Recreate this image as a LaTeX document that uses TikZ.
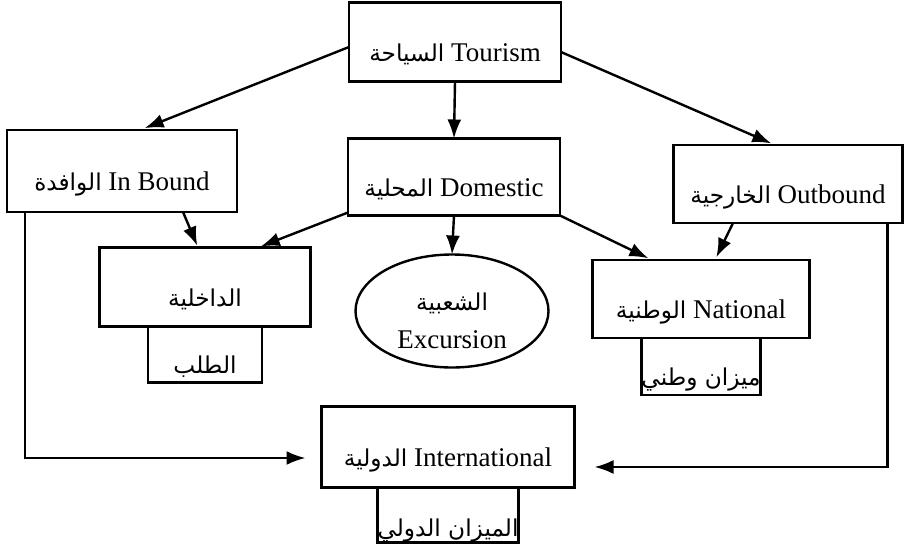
\documentclass[tikz,border=0pt]{standalone}
\usepackage{fontspec}
\setmainfont{Liberation Serif}
\newfontfamily\arabicfont[Script=Arabic,Scale=0.86]{DejaVu Sans}
\TeXXeTstate=1
\usetikzlibrary{arrows.meta,positioning,shapes.geometric}
\newcommand{\artxt}[1]{{\arabicfont\beginR #1\endR}}
\tikzset{font=\fontsize{27}{38}\selectfont}
\tikzset{every node/.append style={transform shape=false}}

\begin{document}
\begin{tikzpicture}[x=1pt,y=-1pt,
  box/.style={draw,line width=2.4pt,inner sep=0pt,outer sep=0pt,text height=38pt,text depth=0pt},
  subbox/.style={box,below=0pt of #1},
  link/.style={line width=2.4pt,-{Latex[length=19pt,width=14pt]}}]
\useasboundingbox (0,0) rectangle (904,546);
% top row
\node[box,minimum width=212pt,minimum height=79pt] (tour) at (455,42) {\artxt{السياحة} Tourism};
\node[box,minimum width=230pt,minimum height=82pt] (inb) at (122,171) {\artxt{الوافدة} In Bound};
\node[box,minimum width=212pt,minimum height=77pt] (dom) at (454,177) {\artxt{المحلية} Domestic};
\node[box,minimum width=229pt,minimum height=78pt] (outb) at (788,184) {\artxt{الخارجية} Outbound};
% middle row
\node[box,minimum width=211pt,minimum height=79pt] (dakh) at (205,287) {\artxt{الداخلية}};
\node[subbox=dakh,minimum width=114pt,minimum height=56pt] (talab) {\artxt{الطلب}};
\node[box,ellipse,minimum width=193pt,minimum height=113pt,align=center,text height=74pt] (exc) at (452,311) {\artxt{الشعبية}\\Excursion};
\node[box,minimum width=217pt,minimum height=78pt] (nat) at (701,299) {\artxt{الوطنية} National};
\node[subbox=nat,minimum width=119pt,minimum height=57pt] (mizw) {\artxt{ميزان وطني}};
% bottom
\node[box,minimum width=253pt,minimum height=81pt] (intl) at (448,447) {\artxt{الدولية} International};
\node[subbox=intl,minimum width=139pt,minimum height=55pt,text height=42pt] (mizd) {\artxt{الميزان الدولي}};
% connectors
\draw[link,shorten >=5pt] ([yshift=-5pt]tour.west) -- ([xshift=18pt]inb.north);
\draw[link] (tour.south) -- (dom.north);
\draw[link,shorten >=4pt] ([yshift=-10pt]tour.east) -- ([xshift=-13pt]outb.north);
\draw[link,shorten >=2pt] ([xshift=61pt]inb.south) -- ([xshift=-7pt]dakh.north);
\draw[link,shorten >=3pt] ([yshift=3pt]dom.south west) -- ([xshift=53pt]dakh.north);
\draw[link] (dom.south) -- (exc.north);
\draw[link,shorten >=4pt] (dom.south east) -- ([xshift=-49pt]nat.north);
\draw[link,shorten >=3pt] ([xshift=-55pt]outb.south) -- ([xshift=14pt]nat.north);
\draw[link,shorten >=16pt] ([xshift=18pt]inb.south west) |- ([yshift=-11pt]intl.west);
\draw[link,shorten >=20pt] ([xshift=-15pt]outb.south east) |- ([yshift=-20pt]intl.east);
\end{tikzpicture}
\end{document}
